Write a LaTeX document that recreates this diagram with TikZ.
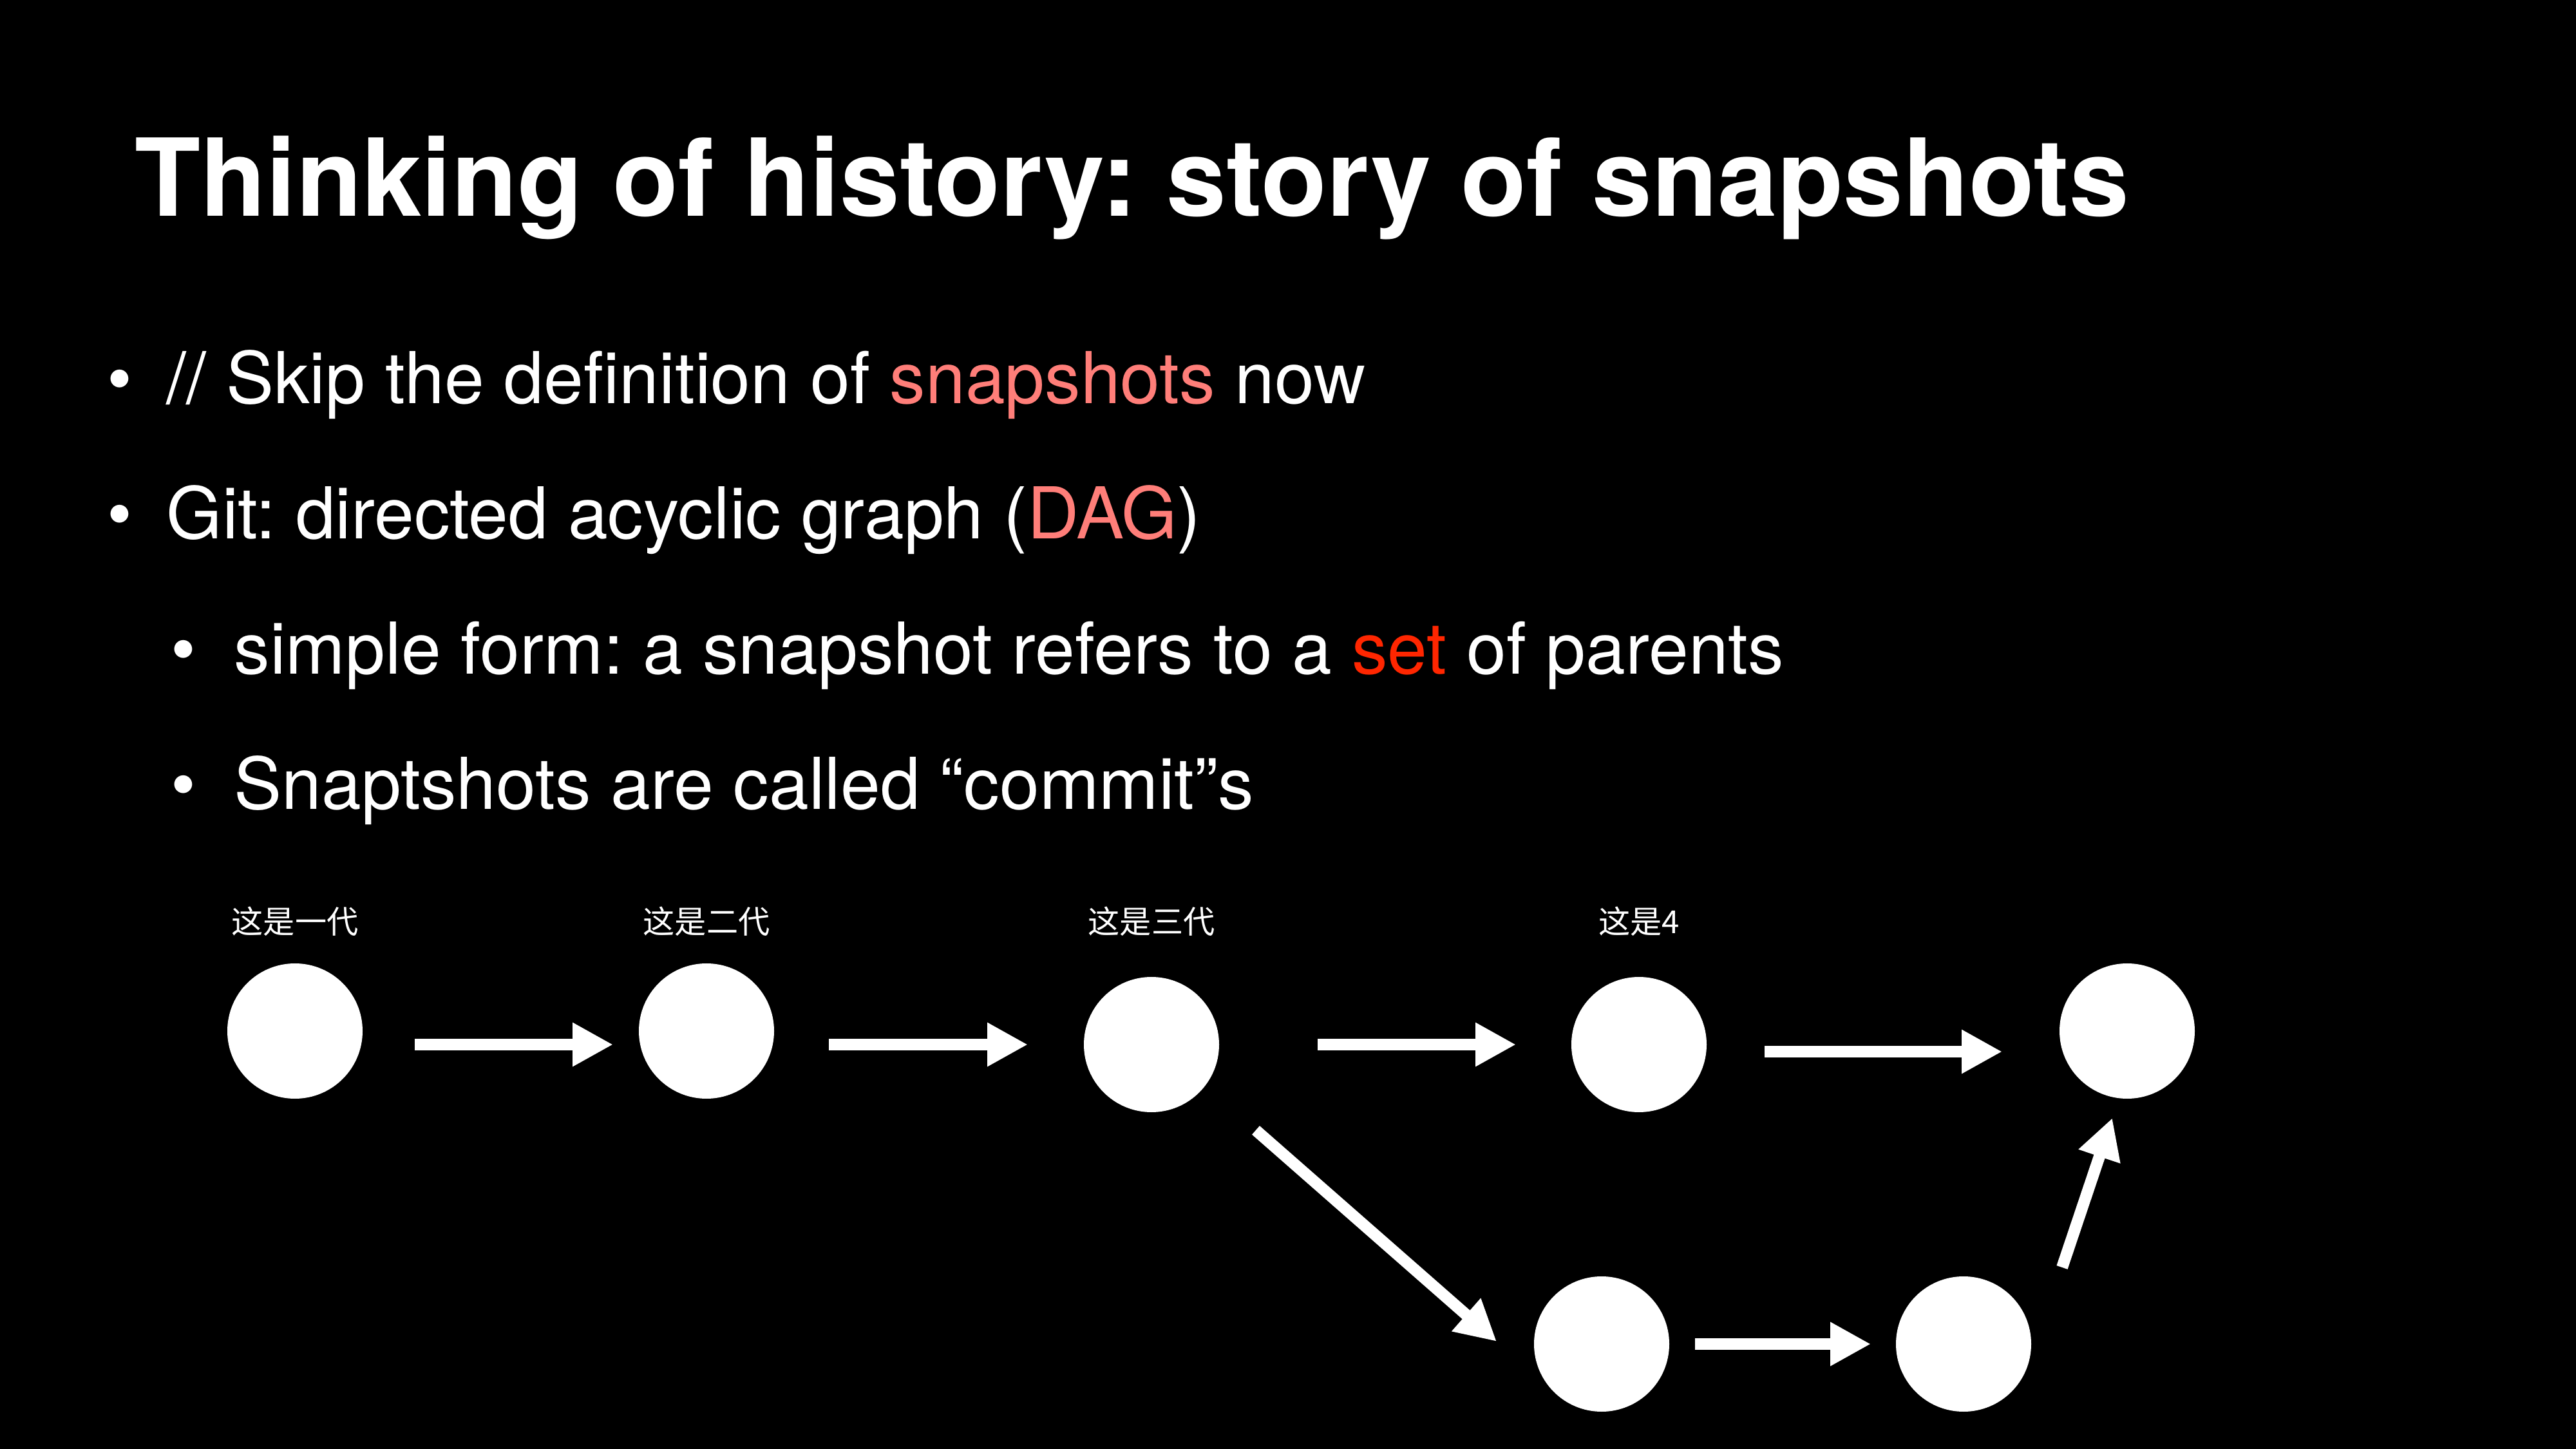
\documentclass[tikz,border=0pt]{standalone}
\usepackage{fontspec}
\setmainfont{TeX Gyre Heros}
\newfontfamily\cjk{Noto Sans CJK SC}
\usetikzlibrary{arrows.meta,calc}

\definecolor{salmon}{HTML}{FF7E79}
\definecolor{hotred}{HTML}{FF2600}

\tikzset{
  commit/.style={circle, fill=white, draw=none, minimum size=2.1cm, inner sep=0pt},
  titletext/.style={anchor=base west, text=white, inner sep=0pt,
    font=\fontsize{47.5pt}{56pt}\selectfont\bfseries\frenchspacing},
  bodytext/.style={anchor=base west, text=white, inner sep=0pt,
    font=\fontsize{31.6pt}{38pt}\selectfont\frenchspacing},
  gen/.style={anchor=base, text=white, inner sep=0pt,
    font=\cjk\fontsize{14pt}{17pt}\selectfont},
  link/.style={white, line width=0.18cm,
    -{Triangle[length=0.63cm, width=0.64cm]}}
}

\begin{document}
\begin{tikzpicture}
  \fill[black] (0,0) rectangle (40,-22.5);
  \useasboundingbox (0,0) rectangle (40,-22.5);

  % heading
  \node[titletext] (title) at (2.09,-3.36) {Thinking of history: story of snapshots};

  % bullet list
  \node[bodytext] (b1) at (1.66,-6.27) {•};
  \node[bodytext] (t1) at (2.58,-6.27) {// Skip the definition of \textcolor{salmon}{snapshots} now};
  \node[bodytext] (b2) at (1.66,-8.37) {•};
  \node[bodytext] (t2) at (2.58,-8.37) {Git: directed acyclic graph (\textcolor{salmon}{DAG})};
  \node[bodytext] (b3) at (2.65,-10.47) {•};
  \node[bodytext] (t3) at (3.63,-10.47) {simple form: a snapshot refers to a \textcolor{hotred}{set} of parents};
  \node[bodytext] (b4) at (2.65,-12.57) {•};
  \node[bodytext] (t4) at (3.63,-12.57) {Snaptshots are called “commit”s};

  % commits
  \node[commit] (c1) at (4.58,-16.01) {};
  \node[commit] (c2) at (10.97,-16.01) {};
  \node[commit] (c3) at (17.88,-16.22) {};
  \node[commit] (c4) at (25.45,-16.22) {};
  \node[commit] (c5) at (33.03,-16.01) {};
  \node[commit] (c6) at (24.87,-20.87) {};
  \node[commit] (c7) at (30.49,-20.87) {};

  % generation labels
  \node[gen] (l1) at (4.58,-14.50) {这是一代};
  \node[gen] (l2) at (10.97,-14.50) {这是二代};
  \node[gen] (l3) at (17.88,-14.50) {这是三代};
  \node[gen] (l4) at (25.45,-14.50) {这是4};

  % history links
  \draw[link] ($(c1)+(1.86,-0.21)$) -- ($(c2)+(-1.45,-0.21)$);
  \draw[link] ($(c2)+(1.90,-0.21)$) -- ($(c3)+(-1.92,0)$);
  \draw[link] ($(c3)+(2.58,0)$) -- ($(c4)+(-1.91,0)$);
  \draw[link] ($(c4)+(1.95,-0.11)$) -- ($(c5)+(-1.94,-0.32)$);
  \draw[link] ($(c3)+(1.62,-1.33)$) -- ($(c6)+(-1.63,0.04)$);
  \draw[link] ($(c6)+(1.45,0)$) -- ($(c7)+(-1.44,0)$);
  \draw[link] ($(c7)+(1.53,1.19)$) -- ($(c5)+(-0.23,-1.35)$);
\end{tikzpicture}
\end{document}
